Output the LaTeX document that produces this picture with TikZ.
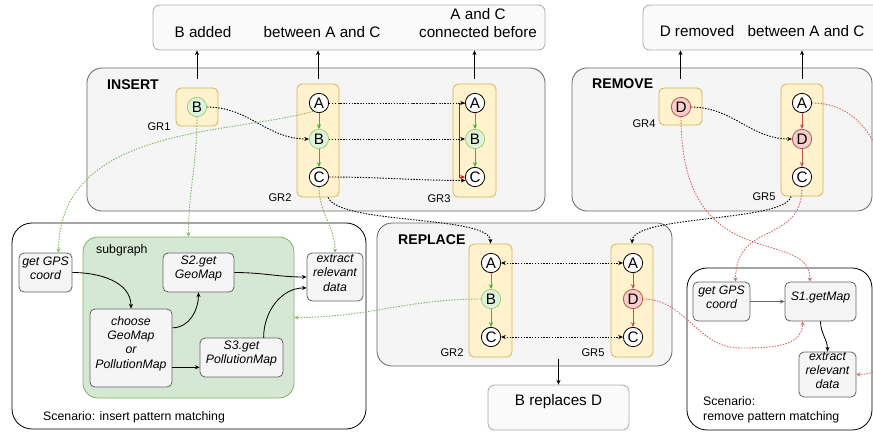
\documentclass[tikz,border=0pt]{standalone}
\usepackage{fontspec}
\setmainfont{Liberation Sans}
\usetikzlibrary{arrows.meta,fit}
\definecolor{BoxClr}{rgb}{0.96,0.96,0.96}
\definecolor{BoxLineClr}{rgb}{0.4,0.4,0.4}
\definecolor{LabelClr}{rgb}{0.98,0.98,0.98}
\definecolor{LabelLineClr}{rgb}{0.7,0.66,0.66}
\definecolor{GroupClr}{rgb}{1,0.949,0.8}
\definecolor{GroupLineClr}{rgb}{0.839,0.714,0.337}
\definecolor{SubClr}{rgb}{0.835,0.91,0.831}
\definecolor{SubLineClr}{rgb}{0.51,0.702,0.4}
\definecolor{AddClr}{rgb}{0.88,0.95,0.86}
\definecolor{AddLineClr}{rgb}{0.6,0.82,0.5}
\definecolor{DelClr}{rgb}{0.973,0.808,0.8}
\definecolor{DelLineClr}{rgb}{0.722,0.329,0.314}
\definecolor{EdgeAddClr}{rgb}{0.15,0.75,0.15}
\definecolor{DotRedClr}{rgb}{0.82,0.4,0.4}

\begin{document}
\begin{tikzpicture}[x=0.3mm,y=-0.3mm,
  every node/.style={font=\fontsize{10.5}{12.5}\selectfont},
  grp/.style={draw=BoxLineClr,fill=BoxClr,rounded corners=4.5mm,inner sep=0pt,line width=0.7pt},
  lbl/.style={draw=LabelLineClr,fill=LabelClr,rounded corners=2mm,inner sep=0pt,line width=0.7pt},
  scen/.style={draw=black,fill=white,rounded corners=6mm,inner sep=0pt,line width=0.7pt},
  subg/.style={draw=SubLineClr,fill=SubClr,rounded corners=4.5mm,inner sep=0pt,line width=0.7pt},
  gr/.style={draw=GroupLineClr,fill=GroupClr,rounded corners=1.5mm,inner sep=0pt,line width=0.7pt},
  proc/.style={draw=BoxLineClr,fill=BoxClr,rounded corners=1.5mm,inner sep=0pt,line width=0.7pt,align=center,font=\fontsize{10.5}{12.2}\selectfont\itshape},
  vtx/.style={circle,draw,fill=white,minimum size=5.8mm,inner sep=0pt,line width=0.7pt,font=\fontsize{13}{13}\selectfont},
  vadd/.style={vtx,draw=AddLineClr,fill=AddClr},
  vdel/.style={vtx,draw=DelLineClr,fill=DelClr},
  big/.style={font=\fontsize{13}{16}\selectfont,align=center},
  boxtitle/.style={font=\fontsize{12}{14}\selectfont\bfseries,anchor=west,inner sep=0pt},
  side/.style={anchor=west,inner sep=0pt,align=left},
  grname/.style={font=\fontsize{9.5}{11}\selectfont},
  arr/.style={-{Stealth[length=4pt,width=3.5pt]},line width=0.7pt},
  dots/.style={dash pattern=on 1.2pt off 1.2pt,line width=0.8pt},
  darr/.style={dots,-{Stealth[length=4pt,width=3.5pt]}},
  dbl/.style={dots,{Stealth[length=4pt,width=3.5pt]}-{Stealth[length=4pt,width=3.5pt]}},
  gdot/.style={dots,SubLineClr,-{Stealth[open,length=3.5pt,width=3.5pt]}},
  rdot/.style={dots,DotRedClr,-{Stealth[open,length=3.5pt,width=3.5pt]}},
  addarr/.style={arr,EdgeAddClr},
  delarr/.style={arr,DelLineClr}]

\useasboundingbox (0,0) rectangle (873,435);

\node[lbl,fit={(153,5) (545,50)}] (TopL) {};
\node[big] (Ta) at (203,32) {B added};
\node[big] (Tb) at (322,32) {between A and C};
\node[big] (Tc) at (478,23) {A and C\\connected before};
\node[lbl,fit={(643,5) (890,50)}] (TopR) {};
\node[big] (Td) at (697,31) {D removed};
\node[big] (Te) at (806,31) {between A and C};

\node[grp,fit={(87,68) (545,211)}] (Ins) {};
\node[grp,fit={(572,68) (872,211)}] (Rem) {};
\node[scen,fit={(12,223) (366,429)}] (ScI) {};
\node[grp,fit={(377,223) (672,366)}] (Rep) {};
\node[scen,fit={(687,268) (872,430)}] (ScR) {};
\node[lbl,big,fit={(488,385) (629,430)}] (Bot) {B replaces D};

\node[boxtitle] (InsT) at (107,85) {INSERT};
\node[boxtitle] (RemT) at (592,84) {REMOVE};
\node[boxtitle] (RepT) at (398,240) {REPLACE};

\node[gr,fit={(176,88) (218,126)}] (GR1) {};
\node[gr,fit={(297,84) (339,197)}] (GR2) {};
\node[gr,fit={(453,84) (496,197)}] (GR3) {};
\node[gr,fit={(659,88) (702,125)}] (GR4) {};
\node[gr,fit={(781,84) (823,196)}] (GR5) {};
\node[gr,fit={(469,244) (512,357)}] (RGR2) {};
\node[gr,fit={(611,244) (653,357)}] (RGR5) {};

\node[grname] (L1) at (159,127) {GR1};
\node[grname] (L2) at (280,198) {GR2};
\node[grname] (L3) at (439,199) {GR3};
\node[grname] (L4) at (644,124) {GR4};
\node[grname] (L5) at (764,197) {GR5};
\node[grname] (RL2) at (452,353) {GR2};
\node[grname] (RL5) at (593,353) {GR5};

\node[vadd] (B1) at (197,107) {B};
\node[vtx] (A2) at (319,103) {A};
\node[vadd] (B2) at (319,139) {B};
\node[vtx] (C2) at (319,177) {C};
\node[vtx] (A3) at (475,103) {A};
\node[vadd] (B3) at (475,139) {B};
\node[vtx] (C3) at (475,177) {C};
\node[vdel] (D4) at (681,107) {D};
\node[vtx] (A5) at (802,103) {A};
\node[vdel] (D5) at (802,139) {D};
\node[vtx] (C5) at (802,177) {C};
\node[vtx] (RA2) at (491,263) {A};
\node[vadd] (RB2) at (491,299) {B};
\node[vtx] (RC2) at (491,337) {C};
\node[vtx] (RA5) at (633,263) {A};
\node[vdel] (RD5) at (633,299) {D};
\node[vtx] (RC5) at (633,337) {C};

\node[subg,fit={(83,237) (294,398)}] (SG) {};
\node[side] (SGT) at (96,250) {subgraph};
\node[proc,fit={(19,253) (72,292)}] (GPS) {get GPS\\coord};
\node[proc,fit={(163,253) (234,292)}] (S2) {S2.get\\GeoMap};
\node[proc,fit={(307,253) (363,301)}] (LX) {extract\\relevant\\data};
\node[proc,fit={(90,309) (172,387)}] (CH) {choose\\GeoMap\\or\\PollutionMap};
\node[proc,fit={(200,338) (283,377)}] (S3) {S3.get\\PollutionMap};
\node[side] (ScIT) at (43,417) {Scenario: insert pattern matching};
\node[proc,fit={(693,282) (750,321)}] (GPS2) {get GPS\\coord};
\node[proc,fit={(785,282) (856,321)}] (S1) {S1.getMap};
\node[proc,fit={(799,352) (856,397)}] (RX) {extract\\relevant\\data};
\node[side] (ScRT) at (703,410) {Scenario:\\remove pattern matching};

\coordinate (ins) at (0,79);
\coordinate (rp) at (0,359);
\coordinate (ch) at (CH.-25);
\coordinate (bend) at (895,250);
\coordinate (dip) at (740,348);

\draw[arr] (GR1.north |- ins) -- (GR1.north |- TopL.south);
\draw[arr] (GR2.north |- ins) -- (GR2.north |- TopL.south);
\draw[arr] (GR3.north |- ins) -- (GR3.north |- TopL.south);
\draw[arr] (GR4.north |- ins) -- (GR4.north |- TopR.south);
\draw[arr] (GR5.north |- ins) -- (GR5.north |- TopR.south);
\draw[arr] (Bot.north |- rp) -- (Bot.north);

\draw[addarr] (A2) -- (B2);
\draw[addarr] (B2) -- (C2);
\draw[addarr] (A3) -- (B3);
\draw[addarr] (B3) -- (C3);
\draw[addarr] (RA2) -- (RB2);
\draw[addarr] (RB2) -- (RC2);
\draw[delarr] (A5) -- (D5);
\draw[delarr] (D5) -- (C5);
\draw[delarr] (RA5) -- (RD5);
\draw[delarr] (RD5) -- (RC5);
\draw[arr,red] (A3.west) -- ++(-6,0) |- (C3.west);

\draw[darr] (B1.east) to[out=0,in=180] (B2.west);
\draw[darr] (A2.east) to[out=0,in=180] (A3.west);
\draw[darr] (B2.east) -- (B3.west);
\draw[darr] (C2.east) to[out=0,in=180] (C3.200);
\draw[darr] (GR2.-80) .. controls (340,225) and (490,215) .. (RGR2.north);
\draw[darr] (D4.east) to[out=0,in=180] (D5.west);
\draw[darr] (GR5.-101) .. controls (785,222) and (633,215) .. (RGR5.north);
\draw[dbl] (RA2.east) -- (RA5.west);
\draw[dbl] (RC2.east) -- (RC5.west);

\draw[gdot] (A2.-125) .. controls (230,135) and (60,125) .. (GPS.57);
\draw[gdot] (B1.south) to[out=-90,in=90] (SG.north);
\draw[gdot] (C2.south) to[out=-90,in=90] (LX.north);
\draw[gdot] (RB2.west) to[out=180,in=0] (SG.east);

\draw[rdot] (D4.south) .. controls (681,280) and (810,225) .. (S1.118);
\draw[rdot] (C5.south) .. controls (802,245) and (736,220) .. (GPS2.55);
\draw[rdot] (A5.east) to[out=0,in=90] (bend) to[out=-90,in=0] (RX.east);
\draw[rdot] (RD5.east) to[out=0,in=180] (dip) to[out=0,in=-90] (S1.-132);

\draw[arr] (GPS.east) to[out=0,in=90] (CH.north);
\draw[arr] (CH.26) to[out=0,in=-90] (S2.south);
\draw[arr] (ch) -- (ch -| S3.west);
\draw[arr] (S2.east) to[out=0,in=180] (LX.west);
\draw[arr] (S3.42) to[out=90,in=180] (LX.201);
\draw[arr,BoxLineClr] (GPS2.east) -- (S1.west);
\draw[arr] (S1.south) to[out=-90,in=90] (RX.north);

\end{tikzpicture}
\end{document}
